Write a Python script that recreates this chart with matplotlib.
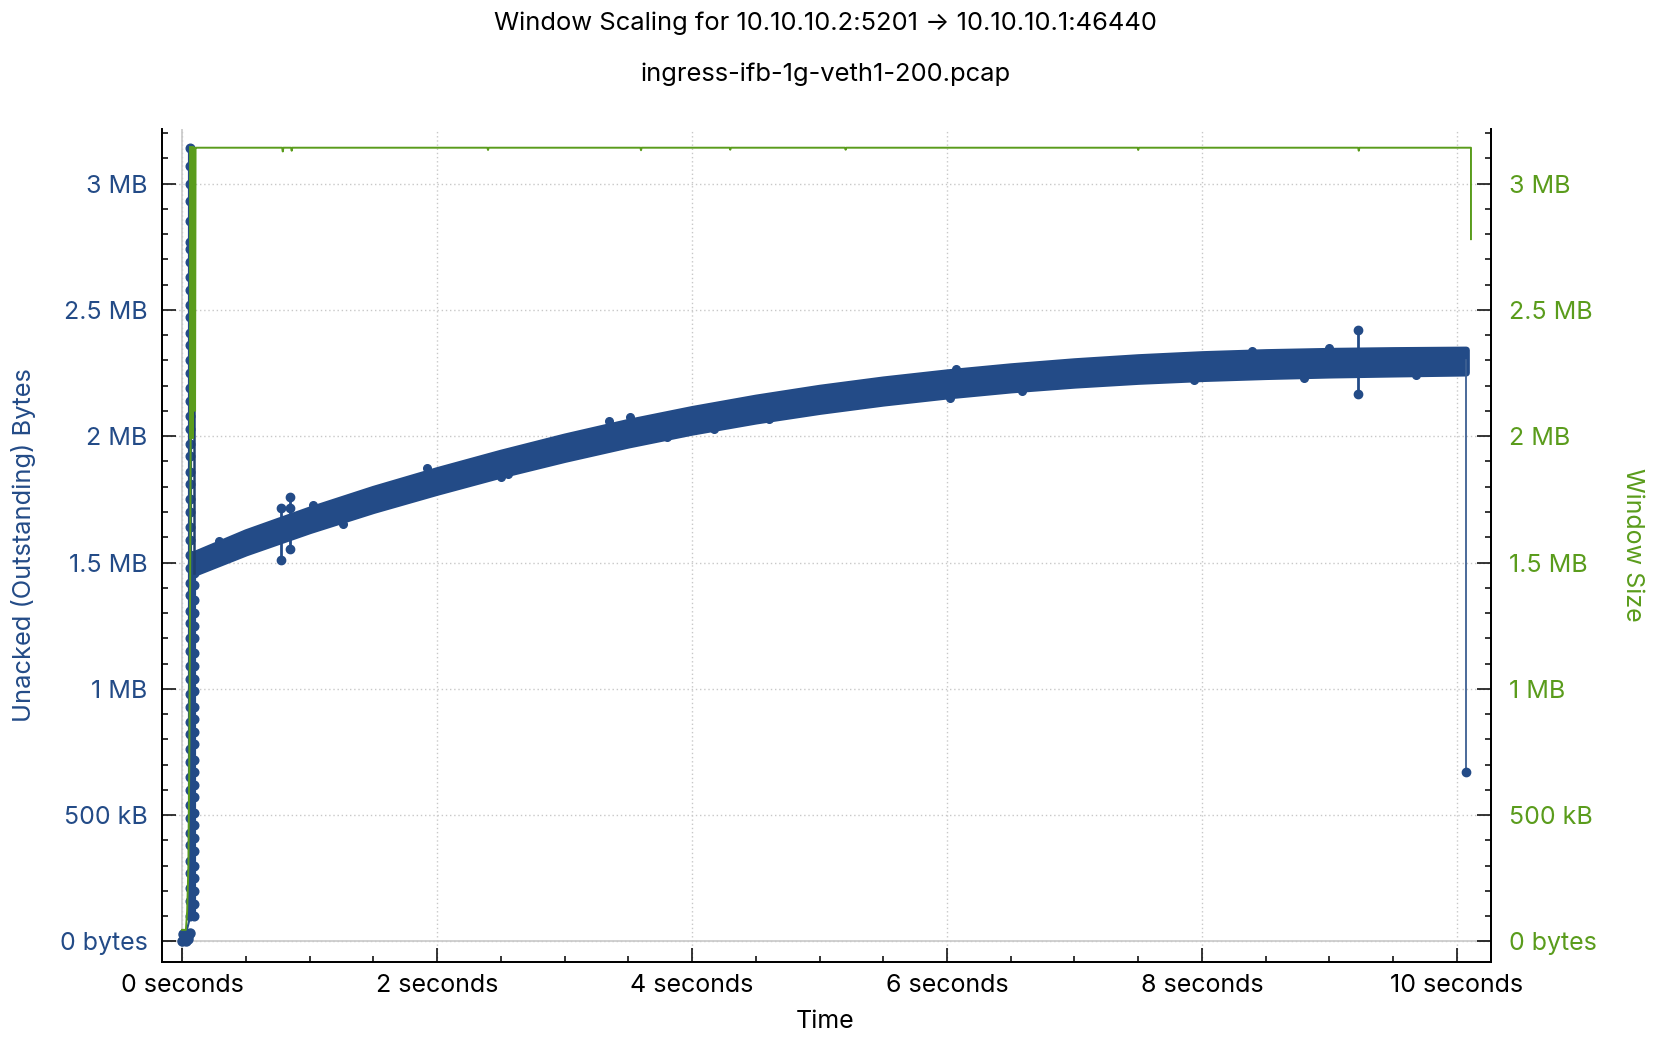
import matplotlib
matplotlib.use("Agg")
import matplotlib.pyplot as plt
from matplotlib.ticker import MultipleLocator

plt.rcParams['font.family'] = ['Inter', 'DejaVu Sans']

BLUE = "#234b87"
GREEN = "#5a9c1c"

# ---------------- data (MB = 1e6 bytes, time in seconds) ----------------
# bulk of unacked bytes: upper/lower envelope of the dense band
band_t  = [0.10, 0.50, 1.00, 1.50, 2.00, 2.50, 3.00, 3.50, 4.00, 4.50, 5.00,
           5.50, 6.00, 6.50, 7.00, 7.50, 8.00, 8.50, 9.00, 9.50, 10.07]
band_hi = [1.535, 1.620, 1.710, 1.792, 1.866, 1.935, 1.999, 2.057, 2.108, 2.153, 2.192,
           2.225, 2.253, 2.277, 2.297, 2.313, 2.325, 2.333, 2.338, 2.341, 2.343]
band_lo = [1.460, 1.540, 1.628, 1.708, 1.780, 1.848, 1.910, 1.967, 2.018, 2.062, 2.100,
           2.133, 2.161, 2.185, 2.204, 2.219, 2.230, 2.238, 2.244, 2.248, 2.252]

# individual dots sticking out of the band edges
bump_t  = [0.29, 1.03, 1.26, 1.92, 2.50, 2.56, 3.35, 3.51, 3.80, 4.17, 4.60,
           6.02, 6.07, 6.59, 7.94, 8.39, 8.80, 9.00, 9.68]
bump_mb = [1.585, 1.727, 1.652, 1.876, 1.840, 1.850, 2.062, 2.078, 1.997, 2.030, 2.069,
           2.153, 2.268, 2.178, 2.224, 2.338, 2.232, 2.348, 2.241]

# slow-start ramp (two columns of samples)
rampA_t = 0.065
rampA_mb = [0.10, 0.16, 0.21, 0.27, 0.32, 0.38, 0.43, 0.49, 0.54, 0.60, 0.65, 0.71,
            0.76, 0.82, 0.87, 0.93, 0.98, 1.04, 1.09, 1.15, 1.20, 1.26, 1.31, 1.37,
            1.42, 1.48, 1.53, 1.59, 1.64, 1.70, 1.75, 1.81, 1.86, 1.92, 1.97, 2.03,
            2.08, 2.14, 2.19, 2.25, 2.30, 2.36, 2.41, 2.47, 2.52, 2.58, 2.63, 2.69,
            2.74, 2.77, 2.85, 2.93, 3.00, 3.07, 3.14]
rampB_t = 0.092
rampB_mb = [0.10, 0.15, 0.20, 0.25, 0.30, 0.36, 0.41, 0.46, 0.51, 0.57, 0.62, 0.67,
            0.72, 0.78, 0.83, 0.88, 0.93, 0.99, 1.04, 1.09, 1.14, 1.20, 1.25, 1.30,
            1.35, 1.41, 1.46]
start_t  = [0.000, 0.010, 0.030, 0.050, 0.060, 0.020, 0.045]
start_mb = [0.000, 0.030, 0.000, 0.020, 0.035, 0.030, 0.010]

# outliers (time, value where line leaves the band, value of outlier)
spike_t    = [0.78, 0.78, 0.85, 0.85, 9.22, 9.22]
spike_base = [1.630, 1.590, 1.670, 1.620, 2.340, 2.250]
spike_mb   = [1.715, 1.509, 1.760, 1.552, 2.422, 2.166]
extra_t  = [0.85]
extra_mb = [1.715]

# final drop
end_t  = [10.07, 10.07]
end_mb = [2.300, 0.671]

# receive window size
win_t  = [0.000, 0.030, 0.040, 0.050, 0.058, 0.064, 0.070, 0.074, 0.078, 0.082,
          0.086, 0.090, 0.094, 0.098, 0.102, 0.106, 0.110, 0.785, 0.790, 0.795,
          0.855, 0.860, 0.865, 2.395, 2.400, 2.405, 3.595, 3.600, 3.605, 4.295,
          4.300, 4.305, 5.200, 5.205, 5.210, 7.495, 7.500, 7.505, 9.225, 9.230,
          9.235, 10.110, 10.110]
win_mb = [0.046, 0.046, 0.120, 0.300, 0.800, 1.500, 2.400, 3.142, 2.300, 3.142,
          2.000, 3.142, 2.600, 3.142, 2.100, 3.142, 3.142, 3.142, 3.127, 3.142,
          3.142, 3.130, 3.142, 3.142, 3.133, 3.142, 3.142, 3.132, 3.142, 3.142,
          3.134, 3.142, 3.142, 3.134, 3.142, 3.142, 3.133, 3.142, 3.142, 3.130,
          3.142, 3.142, 2.780]

yticks_mb = [0, 0.5, 1, 1.5, 2, 2.5, 3]
ytick_labels = ["0 bytes", "500 kB", "1 MB", "1.5 MB", "2 MB", "2.5 MB", "3 MB"]
xticks = [0, 2, 4, 6, 8, 10]
xtick_labels = ["0 seconds", "2 seconds", "4 seconds", "6 seconds", "8 seconds", "10 seconds"]

# ---------------- figure ----------------
fig = plt.figure(figsize=(16.55, 10.46), dpi=100)
ax = fig.add_axes([0.0976, 0.0807, 0.8033, 0.7962])
ax2 = ax.twinx()

XMIN, XMAX = -0.161, 10.267
YMIN, YMAX = -0.0796, 3.217

ax.axhline(0, color="#c8c8c8", lw=1.2, zorder=0)
ax.axvline(0, color="#c8c8c8", lw=1.2, zorder=0)

# band
ax.fill_between(band_t, band_lo, band_hi, color=BLUE, lw=5, edgecolor=BLUE,
                joinstyle='round', zorder=3)
ax.plot(bump_t, bump_mb, 'o', color=BLUE, ms=5.5, zorder=3)

# ramp
ax.plot(start_t, start_mb, 'o', color=BLUE, ms=6.5, zorder=3)
ax.plot([rampA_t] * len(rampA_mb), rampA_mb, '-o', color=BLUE, lw=3, ms=6.2, zorder=3)
ax.plot([rampB_t] * len(rampB_mb), rampB_mb, '-o', color=BLUE, lw=3, ms=6.2, zorder=3)
ax.plot([rampB_t + 0.004, rampB_t + 0.004], [rampB_mb[-1], rampA_mb[49]],
        color="#1f3f6f", lw=1.8, zorder=3)
ax.plot([0.03, rampA_t], [0.03, rampA_mb[0]], color=BLUE, lw=1.5, zorder=3)

# spikes
for t, b, v in zip(spike_t, spike_base, spike_mb):
    ax.plot([t, t], [b, v], color=BLUE, lw=2, zorder=3)
    ax.plot([t], [v], 'o', color=BLUE, ms=6, zorder=3)
ax.plot(extra_t, extra_mb, 'o', color=BLUE, ms=6, zorder=3)

# end drop
ax.plot(end_t, end_mb, '-', color="#3d5f92", lw=1.3, zorder=3)
ax.plot(end_t[-1:], end_mb[-1:], 'o', color=BLUE, ms=6, zorder=3)

# window
ax2.plot(win_t, win_mb, color=GREEN, lw=1.4, zorder=4)
ax2.plot([0.072, 0.072], [2.0, 3.142], color=GREEN, lw=3.5, zorder=4)

for a in (ax, ax2):
    a.set_xlim(XMIN, XMAX)
    a.set_ylim(YMIN, YMAX)
    a.set_yticks(yticks_mb)
    a.yaxis.set_minor_locator(MultipleLocator(0.1))
    a.tick_params(axis='y', which='major', direction='in', length=10, width=1.1,
                  labelsize=18, pad=10)
    a.tick_params(axis='y', which='minor', direction='in', length=4.5, width=1.1)
    a.spines['top'].set_visible(False)
    for s in ('left', 'right', 'bottom'):
        a.spines[s].set_linewidth(1.3)

ax.set_yticklabels(ytick_labels, color=BLUE)
ax2.set_yticklabels(ytick_labels, color=GREEN)
ax2.tick_params(axis='y', pad=13)

ax.set_xticks(xticks)
ax.set_xticklabels(xtick_labels)
ax.xaxis.set_minor_locator(MultipleLocator(0.5))
ax.tick_params(axis='x', which='major', direction='in', length=10, width=1.1,
               labelsize=18, pad=9)
ax.tick_params(axis='x', which='minor', direction='in', length=4.5, width=1.1)

ax.grid(True, which='major', color="#c8c8c8", linestyle=(0, (1, 2)), lw=1)
ax.set_axisbelow(True)

fig.text(0.4986, 0.978, "Window Scaling for 10.10.10.2:5201 \u2192 10.10.10.1:46440",
         ha='center', va='center', fontsize=18.4)
fig.text(0.4986, 0.929, "ingress-ifb-1g-veth1-200.pcap", ha='center', va='center',
         fontsize=18.4)
fig.text(0.4986, 0.023, "Time", ha='center', va='center', fontsize=18)
fig.text(0.014, 0.479, "Unacked (Outstanding) Bytes", ha='center', va='center',
         rotation=90, fontsize=18.3, color=BLUE)
fig.text(0.9866, 0.479, "Window Size", ha='center', va='center',
         rotation=270, fontsize=18, color=GREEN)

fig.savefig("out.png", dpi=100)
